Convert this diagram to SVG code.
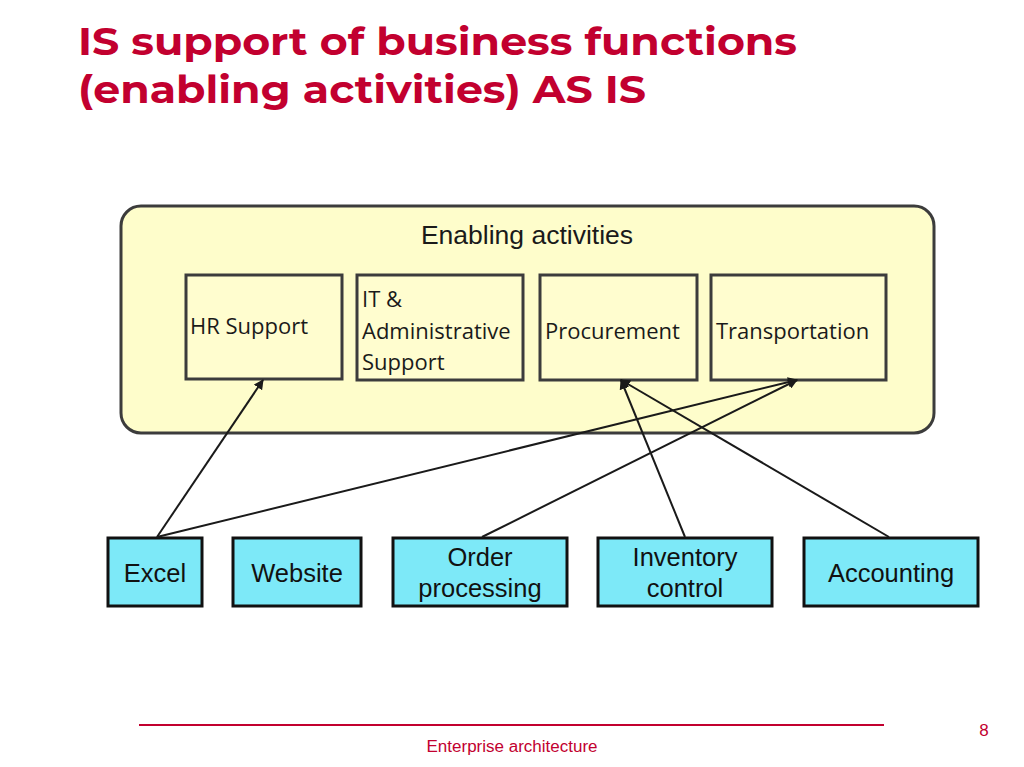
<svg xmlns="http://www.w3.org/2000/svg" width="1024" height="767" viewBox="0 0 1024 767">
<defs>
<marker id="ah" viewBox="0 0 10 10" refX="9" refY="5" markerWidth="5" markerHeight="5" orient="auto-start-reverse" markerUnits="strokeWidth">
<path d="M0,0 L10,5 L0,10 z" fill="#1a1a1a"/>
</marker>
<style>
.title{font-family:Montserrat,"Open Sans","Noto Sans",sans-serif;font-weight:bold;font-size:39px;fill:#C2002F}
.act{fill:#FFFDCF;stroke:#3c3c3c;stroke-width:3}
.fn{font-family:"Open Sans","Noto Sans",sans-serif;font-size:22px;fill:#1a1a1a}
.sys{fill:#7DE9F8;stroke:#111;stroke-width:3}
.st{font-family:"Liberation Sans",Arial,sans-serif;font-size:25.5px;fill:#111;text-anchor:middle}
.conn line{stroke:#1a1a1a;stroke-width:2;marker-end:url(#ah)}
</style>
</defs>
<rect width="1024" height="767" fill="#fff"/>
<text class="title" x="78" y="55" textLength="719" lengthAdjust="spacingAndGlyphs">IS support of business functions</text>
<text class="title" x="78" y="103" textLength="568" lengthAdjust="spacingAndGlyphs">(enabling activities) AS IS</text>

<g id="enabling-activities">
<rect x="121" y="206" width="813" height="227" rx="20" fill="#FEFDCB" stroke="#3c3c3c" stroke-width="3"/>
<text x="527" y="244" font-family="'Liberation Sans',Arial,sans-serif" font-size="26.5" fill="#1a1a1a" text-anchor="middle">Enabling activities</text>
</g>
<g id="hr-support">
<rect class="act" x="186" y="275" width="156" height="104"/>
<text class="fn" x="190" y="334">HR Support</text>
</g>
<g id="it-admin-support">
<rect class="act" x="357" y="275" width="166" height="105"/>
<text class="fn" x="362" y="307">IT &amp;</text>
<text class="fn" x="362" y="339">Administrative</text>
<text class="fn" x="362" y="370">Support</text>
</g>
<g id="procurement">
<rect class="act" x="540" y="275" width="157" height="105"/>
<text class="fn" x="545" y="339">Procurement</text>
</g>
<g id="transportation">
<rect class="act" x="711" y="275" width="175" height="105"/>
<text class="fn" x="716" y="339">Transportation</text>
</g>

<g id="excel">
<rect class="sys" x="108" y="538" width="94" height="68"/>
<text class="st" x="155" y="582">Excel</text>
</g>
<g id="website">
<rect class="sys" x="233" y="538" width="128" height="68"/>
<text class="st" x="297" y="582">Website</text>
</g>
<g id="order-processing">
<rect class="sys" x="393" y="538" width="174" height="68"/>
<text class="st" x="480" y="566">Order</text>
<text class="st" x="480" y="597">processing</text>
</g>
<g id="inventory-control">
<rect class="sys" x="598" y="538" width="174" height="68"/>
<text class="st" x="685" y="566">Inventory</text>
<text class="st" x="685" y="597">control</text>
</g>
<g id="accounting">
<rect class="sys" x="804" y="538" width="174" height="68"/>
<text class="st" x="891" y="582">Accounting</text>
</g>

<g id="connectors" class="conn">
<line x1="157" y1="537" x2="263" y2="380"/>
<line x1="157" y1="537" x2="797" y2="380"/>
<line x1="482" y1="537" x2="797" y2="380"/>
<line x1="685" y1="537" x2="621" y2="380"/>
<line x1="889" y1="537" x2="621" y2="380"/>
</g>

<g id="footer">
<line x1="139" y1="725" x2="884" y2="725" stroke="#C2002F" stroke-width="2"/>
<text x="512" y="752" font-family="'Liberation Sans',Arial,sans-serif" font-size="16" fill="#C2002F" text-anchor="middle" textLength="171" lengthAdjust="spacingAndGlyphs">Enterprise architecture</text>
<text x="984" y="736" font-family="'Liberation Sans',Arial,sans-serif" font-size="17" fill="#C2002F" text-anchor="middle">8</text>
</g>
</svg>
